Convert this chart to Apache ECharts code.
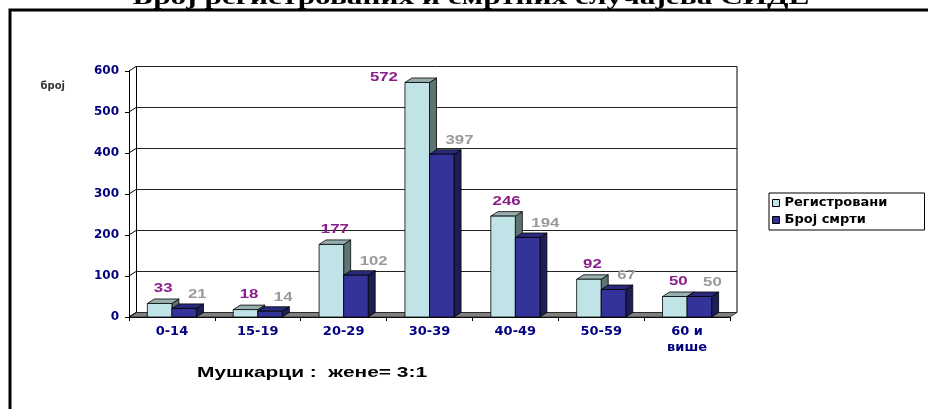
<!DOCTYPE html>
<html>
<head>
<meta charset="utf-8">
<script src="https://cdn.jsdelivr.net/npm/echarts@6/dist/echarts.min.js"></script>
<style>
  html, body { margin: 0; padding: 0; background: #fff; }
  #chart { width: 928px; height: 409px; }
</style>
</head>
<body>
<div id="chart"></div>
<script>
// ---- data ----
const categories = ['0-14', '15-19', '20-29', '30-39', '40-49', '50-59', '60 и\nвише'];
const registered = [33, 18, 177, 572, 246, 92, 50];
const deaths = [21, 14, 102, 397, 194, 67, 50];
const seriesNames = ['Регистровани', 'Број смрти'];
const yTicks = [0, 100, 200, 300, 400, 500, 600];
const titleText = 'Број регистрованих и смртних случајева СИДЕ';
const noteText = 'Мушкарци :  жене= 3:1';
const axisName = 'број';

// ---- look ----
const DX = 7, DY = -4.5;            // depth offset for the 3D effect
const FRONT = { left: 129, top: 71, width: 601, height: 246 };
const BACK = { left: FRONT.left + DX, top: FRONT.top + DY, width: FRONT.width, height: FRONT.height };
const palette = [
  { front: '#bfe3e6', top: '#97afae', side: '#5e7472', label: '#8b1c8b' },
  { front: '#333399', top: '#2a2a7c', side: '#1d1d58', label: '#9a9a9a' }
];
const LABEL_FONT = { family: 'Liberation Sans', size: 12, scale: 1.4 };
const AXIS_FONT = 'DejaVu Sans';

const measureCtx = document.createElement('canvas').getContext('2d');
function stretchTo(text, font, width) {
  measureCtx.font = font;
  return width / measureCtx.measureText(text).width;
}

function labelText(text, x, y, color, align) {
  return {
    type: 'text', x: x, y: y, scaleX: LABEL_FONT.scale, z2: 10,
    style: {
      text: text, fill: color, align: align, verticalAlign: 'middle',
      fontFamily: LABEL_FONT.family, fontSize: LABEL_FONT.size, fontWeight: 'bold'
    }
  };
}

// 3D column: side, top and front faces plus its value label
function columnRenderer(s) {
  return function (params, api) {
    const idx = api.value(0);
    const val = api.value(1);
    const base = api.coord([idx, 0]);
    const top = api.coord([idx, val]);
    const band = api.size([1, 0])[0];
    const w = band * 0.286;
    const x0 = s === 0 ? base[0] - w : base[0];
    const x1 = x0 + w;
    const y0 = base[1], y1 = top[1];
    const c = palette[s];
    const edge = { stroke: '#000', lineWidth: 0.8 };
    const children = [
      { type: 'polygon', shape: { points: [[x1, y0], [x1 + DX, y0 + DY], [x1 + DX, y1 + DY], [x1, y1]] },
        style: Object.assign({ fill: c.side }, edge) },
      { type: 'polygon', shape: { points: [[x0, y1], [x1, y1], [x1 + DX, y1 + DY], [x0 + DX, y1 + DY]] },
        style: Object.assign({ fill: c.top }, edge) },
      { type: 'rect', shape: { x: x0, y: y1, width: w, height: y0 - y1 },
        style: Object.assign({ fill: c.front }, edge) }
    ];
    const plotTop = params.coordSys.y + DY;
    if (s === 0) {
      let ly = y1 + DY - 10;
      if (ly - 6 < plotTop) {
        children.push(labelText(String(val), x0 - 7, y1 + DY, c.label, 'right'));
      } else {
        children.push(labelText(String(val), (x0 + x1) / 2 + DX / 2, ly, c.label, 'center'));
      }
    } else {
      children.push(labelText(String(val), x0 + 16, y1 + DY - 9, c.label, 'left'));
    }
    return { type: 'group', children: children };
  };
}

// floor, left side wall rungs and right back edge
function wallsRenderer(params, api) {
  const cs = params.coordSys;
  const xl = cs.x, xr = cs.x + cs.width;
  const yb = api.coord([0, 0])[1];
  const yt = api.coord([0, yTicks[yTicks.length - 1]])[1];
  const children = [
    { type: 'polygon', shape: { points: [[xl, yb], [xr, yb], [xr + DX, yb + DY], [xl + DX, yb + DY]] },
      style: { fill: '#808080', stroke: '#222', lineWidth: 0.8 } },
    { type: 'line', shape: { x1: xr + DX, y1: yt + DY, x2: xr + DX, y2: yb + DY },
      style: { stroke: '#000', lineWidth: 1 } }
  ];
  yTicks.forEach(function (v) {
    const y = api.coord([0, v])[1];
    children.push({ type: 'line', shape: { x1: xl, y1: y, x2: xl + DX, y2: y + DY },
      style: { stroke: '#000', lineWidth: 1 } });
  });
  return { type: 'group', children: children };
}

const chart = echarts.init(document.getElementById('chart'), null, { renderer: 'canvas' });

const titleFont = 'bold 22px "Liberation Serif"';
const noteFont = 'bold 14px "Liberation Sans"';

chart.setOption({
  animation: false,
  backgroundColor: '#fff',
  grid: [
    Object.assign({}, FRONT),
    Object.assign({}, BACK)
  ],
  xAxis: [
    {
      type: 'category', gridIndex: 0, data: categories,
      axisLine: { lineStyle: { color: '#000', width: 1 } },
      axisTick: { show: true, length: 4, lineStyle: { color: '#000' } },
      axisLabel: {
        interval: 0, margin: 7, color: '#000080', fontFamily: AXIS_FONT,
        fontWeight: 'bold', fontSize: 13, lineHeight: 16
      },
      splitLine: { show: false }
    },
    { type: 'category', gridIndex: 1, data: categories, show: false }
  ],
  yAxis: [
    {
      type: 'value', gridIndex: 0, min: 0, max: 600, interval: 100,
      axisLine: { show: true, lineStyle: { color: '#000', width: 1 } },
      axisTick: { show: true, length: 4, lineStyle: { color: '#000' } },
      axisLabel: { margin: 10, color: '#000080', fontFamily: AXIS_FONT, fontWeight: 'bold', fontSize: 12 },
      splitLine: { show: false },
      name: axisName, nameLocation: 'end', nameGap: -15,
      nameTextStyle: {
        color: '#333', fontFamily: AXIS_FONT, fontWeight: 'bold', fontSize: 10,
        align: 'right', verticalAlign: 'middle', padding: [0, 64, 0, 0]
      }
    },
    {
      type: 'value', gridIndex: 1, min: 0, max: 600, interval: 100,
      axisLine: { show: true, lineStyle: { color: '#000', width: 1 } },
      axisTick: { show: false }, axisLabel: { show: false },
      splitLine: { show: true, lineStyle: { color: '#222', width: 1 } }
    }
  ],
  legend: {
    orient: 'vertical', left: 769, top: 193, padding: [3, 3, 3, 3],
    itemWidth: 7, itemHeight: 7, itemGap: 3, icon: 'rect',
    borderColor: '#000', borderWidth: 1,
    itemStyle: { borderColor: '#000', borderWidth: 1 },
    textStyle: { color: '#000', fontFamily: AXIS_FONT, fontWeight: 'bold', fontSize: 13, lineHeight: 14, width: 137 },
    data: seriesNames
  },
  graphic: [
    {
      type: 'text', x: 471, y: 9.5, z: 10,
      scaleX: stretchTo(titleText, titleFont, 677),
      style: { text: titleText, fill: '#000', align: 'center', verticalAlign: 'bottom',
               fontFamily: 'Liberation Serif', fontSize: 22, fontWeight: 'bold' }
    },
    {
      type: 'polyline', z: 20,
      shape: { points: [[10, 409], [10, 10], [928, 10]] },
      style: { stroke: '#000', lineWidth: 3, fill: null }
    },
    {
      type: 'text', x: 197, y: 373.5, z: 10,
      scaleX: stretchTo(noteText, noteFont, 230),
      style: { text: noteText, fill: '#000', align: 'left', verticalAlign: 'middle',
               fontFamily: 'Liberation Sans', fontSize: 14, fontWeight: 'bold' }
    }
  ],
  series: [
    {
      type: 'custom', name: 'walls', xAxisIndex: 0, yAxisIndex: 0, clip: false, z: 1,
      silent: true, renderItem: wallsRenderer, data: [[0, 0]]
    },
    {
      type: 'custom', name: seriesNames[0], xAxisIndex: 0, yAxisIndex: 0, clip: false, z: 3,
      itemStyle: { color: palette[0].front, borderColor: '#000', borderWidth: 1 },
      encode: { x: 0, y: 1 }, renderItem: columnRenderer(0),
      data: registered.map(function (v, i) { return [i, v]; })
    },
    {
      type: 'custom', name: seriesNames[1], xAxisIndex: 0, yAxisIndex: 0, clip: false, z: 4,
      itemStyle: { color: palette[1].front, borderColor: '#000', borderWidth: 1 },
      encode: { x: 0, y: 1 }, renderItem: columnRenderer(1),
      data: deaths.map(function (v, i) { return [i, v]; })
    }
  ]
});
</script>
</body>
</html>
